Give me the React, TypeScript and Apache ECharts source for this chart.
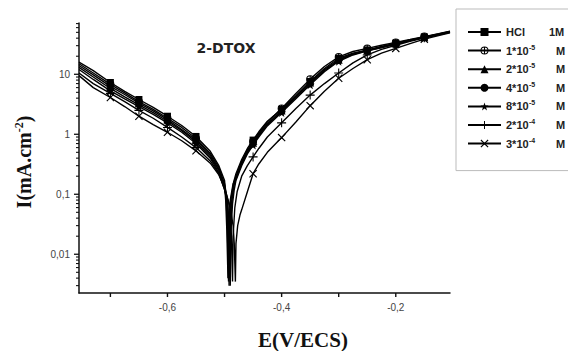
import React, { useEffect, useRef } from "react";
import * as echarts from "echarts";

// ---- data (E in V/ECS, I in mA.cm-2) ----
const SERIES_NAMES = ["HCl 1M", "1*10-5 M", "2*10-5 M", "4*10-5 M", "8*10-5 M", "2*10-4 M", "3*10-4 M"];
const LEGEND_BASE = ["HCl", "1*10", "2*10", "4*10", "8*10", "2*10", "3*10"];
const LEGEND_EXP = ["", "-5", "-5", "-5", "-5", "-4", "-4"];
const LEGEND_UNIT = ["1M", "M", "M", "M", "M", "M", "M"];

const E_HCL = [-0.755,-0.73,-0.7,-0.675,-0.65,-0.625,-0.6,-0.575,-0.55,-0.525,-0.51,-0.5,-0.497,-0.495,-0.493,-0.492,-0.489,-0.484,-0.48,-0.47,-0.46,-0.45,-0.44,-0.425,-0.4,-0.375,-0.35,-0.325,-0.3,-0.275,-0.25,-0.225,-0.2,-0.175,-0.15,-0.125,-0.105];
const I_HCL = [16,11.5,7.3,5.2,3.8,2.8,2.0,1.4,0.92,0.52,0.3,0.17,0.08,0.025,0.0035,0.025,0.08,0.16,0.22,0.38,0.58,0.8,1.1,1.65,2.6,4.4,7.6,12.5,18.5,22.5,25.5,29,33,37.5,42,47,52];

const E_C1 = [-0.755,-0.73,-0.7,-0.675,-0.65,-0.625,-0.6,-0.575,-0.55,-0.525,-0.51,-0.5,-0.495,-0.493,-0.491,-0.49,-0.487,-0.483,-0.48,-0.47,-0.46,-0.45,-0.44,-0.425,-0.4,-0.375,-0.35,-0.325,-0.3,-0.275,-0.25,-0.225,-0.2,-0.175,-0.15,-0.125,-0.105];
const I_C1 = [15,10.5,6.8,4.9,3.5,2.6,1.85,1.3,0.85,0.48,0.28,0.15,0.08,0.025,0.004,0.025,0.08,0.15,0.2,0.36,0.55,0.76,1.05,1.6,2.7,4.8,8.3,13.5,19.5,24,27,30.5,34,38,42.5,47.5,52.5];

const E_C2 = [-0.755,-0.73,-0.7,-0.675,-0.65,-0.625,-0.6,-0.575,-0.55,-0.525,-0.51,-0.5,-0.498,-0.496,-0.494,-0.493,-0.49,-0.485,-0.48,-0.47,-0.46,-0.45,-0.44,-0.425,-0.4,-0.375,-0.35,-0.325,-0.3,-0.275,-0.25,-0.225,-0.2,-0.175,-0.15,-0.125,-0.105];
const I_C2 = [14,9.8,6.3,4.6,3.3,2.45,1.75,1.2,0.8,0.45,0.26,0.14,0.08,0.025,0.004,0.025,0.08,0.15,0.19,0.34,0.52,0.72,1.0,1.5,2.5,4.3,7.3,12,17.5,22,25,28.5,32.5,37,41.5,46.5,51];

const E_C3 = [-0.755,-0.73,-0.7,-0.675,-0.65,-0.625,-0.6,-0.575,-0.55,-0.525,-0.51,-0.5,-0.496,-0.494,-0.492,-0.491,-0.488,-0.484,-0.48,-0.47,-0.46,-0.45,-0.44,-0.425,-0.4,-0.375,-0.35,-0.325,-0.3,-0.275,-0.25,-0.225,-0.2,-0.175,-0.15,-0.125,-0.105];
const I_C3 = [13,9.0,5.8,4.2,3.1,2.3,1.65,1.15,0.75,0.42,0.25,0.13,0.07,0.022,0.003,0.022,0.07,0.14,0.18,0.32,0.5,0.7,0.95,1.45,2.4,4.1,7.0,11.5,17,21.5,24.5,28,32,36.5,41,46,51];

const E_C4 = [-0.755,-0.73,-0.7,-0.675,-0.65,-0.625,-0.6,-0.575,-0.55,-0.525,-0.51,-0.5,-0.494,-0.492,-0.49,-0.489,-0.486,-0.483,-0.48,-0.47,-0.46,-0.45,-0.44,-0.425,-0.4,-0.375,-0.35,-0.325,-0.3,-0.275,-0.25,-0.225,-0.2,-0.175,-0.15,-0.125,-0.105];
const I_C4 = [12,8.2,5.3,3.9,2.9,2.15,1.55,1.08,0.7,0.4,0.23,0.12,0.07,0.022,0.003,0.022,0.07,0.12,0.17,0.3,0.47,0.66,0.9,1.38,2.3,3.9,6.7,11,16.5,21,24.5,28,32,36.5,41,46,51];

const E_C5 = [-0.755,-0.73,-0.7,-0.675,-0.65,-0.625,-0.6,-0.575,-0.55,-0.525,-0.51,-0.5,-0.49,-0.488,-0.486,-0.485,-0.482,-0.478,-0.47,-0.46,-0.45,-0.44,-0.425,-0.4,-0.375,-0.35,-0.325,-0.3,-0.275,-0.25,-0.225,-0.2,-0.175,-0.15,-0.125,-0.105];
const I_C5 = [10.5,7.0,4.8,3.5,2.5,1.85,1.3,0.9,0.6,0.36,0.22,0.12,0.06,0.02,0.0035,0.02,0.06,0.11,0.2,0.3,0.42,0.58,0.9,1.55,2.7,4.5,7.0,10.5,15.5,21,26,30.5,35.5,40.5,45.5,50];

const E_C6 = [-0.755,-0.73,-0.7,-0.675,-0.65,-0.625,-0.6,-0.575,-0.55,-0.525,-0.51,-0.5,-0.49,-0.485,-0.483,-0.481,-0.48,-0.477,-0.473,-0.47,-0.46,-0.45,-0.44,-0.425,-0.4,-0.375,-0.35,-0.325,-0.3,-0.275,-0.25,-0.225,-0.2,-0.175,-0.15,-0.125,-0.105];
const I_C6 = [9.5,6.0,4.1,2.9,2.0,1.45,1.08,0.78,0.53,0.33,0.21,0.13,0.06,0.03,0.015,0.0035,0.015,0.03,0.045,0.055,0.11,0.22,0.32,0.5,0.88,1.6,3.0,5.2,8.6,12.5,17.5,22.5,27,32.5,38.5,44,49];

const SERIES_E = [E_HCL, E_C1, E_C2, E_C3, E_C4, E_C5, E_C6];
const SERIES_I = [I_HCL, I_C1, I_C2, I_C3, I_C4, I_C5, I_C6];

// potentials at which a marker is drawn along each curve
const MARK_E = [-0.7, -0.65, -0.6, -0.55, -0.45, -0.4, -0.35, -0.3, -0.25, -0.2, -0.15];

const X_MIN = -0.755;
const X_MAX = -0.105;
const Y_MIN = 0.00226;
const Y_MAX = 71.6;
const X_TICKS = [-0.7, -0.6, -0.5, -0.4, -0.3, -0.2];
const X_LABELS = [-0.6, -0.4, -0.2];
const Y_LABELS = [0.01, 0.1, 1, 10];
const Y_MINOR = [0.003,0.004,0.005,0.006,0.007,0.008,0.009,0.02,0.03,0.04,0.05,0.06,0.07,0.08,0.09,0.2,0.3,0.4,0.5,0.6,0.7,0.8,0.9,2,3,4,5,6,7,8,9,20,30,40,50,60,70];

// ---- marker shapes ----
const SYM_CIRCLE_PLUS = "path://M0,-10 A10,10 0 1,1 0,10 A10,10 0 1,1 0,-10 Z M0,-7.5 A7.5,7.5 0 1,0 0,7.5 A7.5,7.5 0 1,0 0,-7.5 Z M-1.3,-8 L1.3,-8 L1.3,8 L-1.3,8 Z M-8,-1.3 L8,-1.3 L8,1.3 L-8,1.3 Z";
const SYM_STAR = "path://M0,-10 L2.35,-3.24 L9.51,-3.09 L3.8,1.24 L5.88,8.09 L0,4 L-5.88,8.09 L-3.8,1.24 L-9.51,-3.09 L-2.35,-3.24 Z";
const SYM_PLUS = "path://M-1.2,-10 L1.2,-10 L1.2,-1.2 L10,-1.2 L10,1.2 L1.2,1.2 L1.2,10 L-1.2,10 L-1.2,1.2 L-10,1.2 L-10,-1.2 L-1.2,-1.2 Z";
const SYM_CROSS = "path://M-10,-8 L-8,-10 L0,-2 L8,-10 L10,-8 L2,0 L10,8 L8,10 L0,2 L-8,10 L-10,8 L-2,0 Z";
const SYMBOLS = ["rect", SYM_CIRCLE_PLUS, "triangle", "circle", SYM_STAR, SYM_PLUS, SYM_CROSS];
const SYMBOL_SIZES = [7, 8, 8, 7, 9, 9, 8];

const fmtComma = (v: number) => String(v).replace(".", ",");

// tick marks drawn through the axes' own coordinate mapping
function tickSeries(data: number[][], dx: number, dy: number, width: number) {
  return {
    type: "custom",
    silent: true,
    clip: false,
    z: 20,
    data,
    renderItem: (_p: any, api: any) => {
      const c = api.coord([api.value(0), api.value(1)]);
      return {
        type: "line",
        shape: { x1: c[0], y1: c[1], x2: c[0] + dx, y2: c[1] + dy },
        style: { stroke: "#111", lineWidth: width },
      };
    },
  };
}

export default function App() {
  const ref = useRef<HTMLDivElement>(null);
  useEffect(() => {
    if (!ref.current) return;
    const chart = echarts.init(ref.current, null, { renderer: "svg" });

    const series: any[] = SERIES_NAMES.map((name, k) => ({
      name,
      type: "line",
      symbol: SYMBOLS[k],
      symbolSize: SYMBOL_SIZES[k],
      showSymbol: true,
      color: "#000",
      lineStyle: { color: "#000", width: 1.4 },
      itemStyle: { color: "#000" },
      z: 10 - k,
      data: SERIES_E[k].map((e, i) => {
        const mark = MARK_E.some((m) => Math.abs(m - e) < 1e-6);
        return mark ? { value: [e, SERIES_I[k][i]] } : { value: [e, SERIES_I[k][i]], symbol: "none" };
      }),
    }));

    series.push(tickSeries(Y_LABELS.map((v) => [X_MIN, v]), -5, 0, 1.3));
    series.push(tickSeries(Y_MINOR.map((v) => [X_MIN, v]), -3, 0, 1.1));
    series.push(tickSeries(X_TICKS.map((v) => [v, Y_MIN]), 0, 4, 1.4));

    const legendText = { fontSize: 11, fontWeight: "bold", fontFamily: "Liberation Sans, Arial, sans-serif", color: "#222", lineHeight: 14 };

    const option: any = {
      animation: false,
      grid: { left: 79, top: 23, width: 371, height: 270, containLabel: false, outerBoundsMode: "none" },
      xAxis: {
        type: "value",
        min: X_MIN,
        max: X_MAX,
        axisLine: { lineStyle: { color: "#111", width: 1.5 } },
        axisTick: { show: false },
        axisLabel: {
          customValues: X_LABELS,
          formatter: (v: number) => v.toFixed(1).replace(".", ","),
          margin: 9,
          fontSize: 10,
          color: "#444",
          fontFamily: "Liberation Sans, Arial, sans-serif",
        },
        splitLine: { show: false },
      },
      yAxis: {
        type: "log",
        logBase: 10,
        min: Y_MIN,
        max: Y_MAX,
        position: "left",
        axisLine: { show: true, lineStyle: { color: "#111", width: 1.5 } },
        axisTick: { show: false },
        axisLabel: {
          customValues: Y_LABELS,
          formatter: (v: number) => fmtComma(v),
          margin: 9,
          fontSize: 10,
          color: "#444",
          fontFamily: "Liberation Sans, Arial, sans-serif",
        },
        splitLine: { show: false },
      },
      legend: {
        orient: "vertical",
        left: 456,
        top: 9,
        padding: [16, 14, 20, 11],
        itemWidth: 33,
        itemHeight: 10,
        itemGap: 4.6,
        borderColor: "#bbb",
        borderWidth: 1,
        selectedMode: false,
        data: SERIES_NAMES,
        textStyle: {
          ...legendText,
          rich: {
            h: { ...legendText, width: 43 },
            b: { ...legendText, width: 23 },
            s: { ...legendText, fontSize: 7, lineHeight: 8, verticalAlign: "top", width: 27 },
            u: { ...legendText },
          },
        },
        formatter: (name: string) => {
          const k = SERIES_NAMES.indexOf(name);
          if (LEGEND_EXP[k] === "") return `{h|${LEGEND_BASE[k]}}{u|${LEGEND_UNIT[k]}}`;
          return `{b|${LEGEND_BASE[k]}}{s|${LEGEND_EXP[k]}}{u|${LEGEND_UNIT[k]}}`;
        },
      },
      graphic: [
        {
          type: "text",
          x: 226,
          y: 48,
          style: {
            text: "2-DTOX",
            fontSize: 14,
            fontWeight: "bold",
            fontFamily: "DejaVu Sans, sans-serif",
            fill: "#222",
            align: "center",
            verticalAlign: "middle",
          },
        },
        {
          type: "text",
          x: 303,
          y: 340,
          style: {
            text: "E(V/ECS)",
            fontSize: 21,
            fontWeight: "bold",
            fontFamily: "Liberation Serif, Times New Roman, serif",
            fill: "#111",
            align: "center",
            verticalAlign: "middle",
          },
        },
        {
          type: "text",
          x: 24,
          y: 162,
          rotation: Math.PI / 2,
          style: {
            text: "{t|I(mA.cm}{s|-2}{t|)}",
            align: "center",
            verticalAlign: "middle",
            rich: {
              t: { fontSize: 20, fontWeight: "bold", fontFamily: "Liberation Serif, Times New Roman, serif", fill: "#111", color: "#111", lineHeight: 23 },
              s: { fontSize: 12, fontWeight: "bold", fontFamily: "Liberation Serif, Times New Roman, serif", fill: "#111", color: "#111", lineHeight: 12, verticalAlign: "top" },
            },
          },
        },
      ],
      series,
    };

    chart.setOption(option);
    return () => chart.dispose();
  }, []);

  return <div ref={ref} style={{ position: "fixed", left: 0, top: 0, width: 568, height: 351, background: "#fff" }} />;
}
